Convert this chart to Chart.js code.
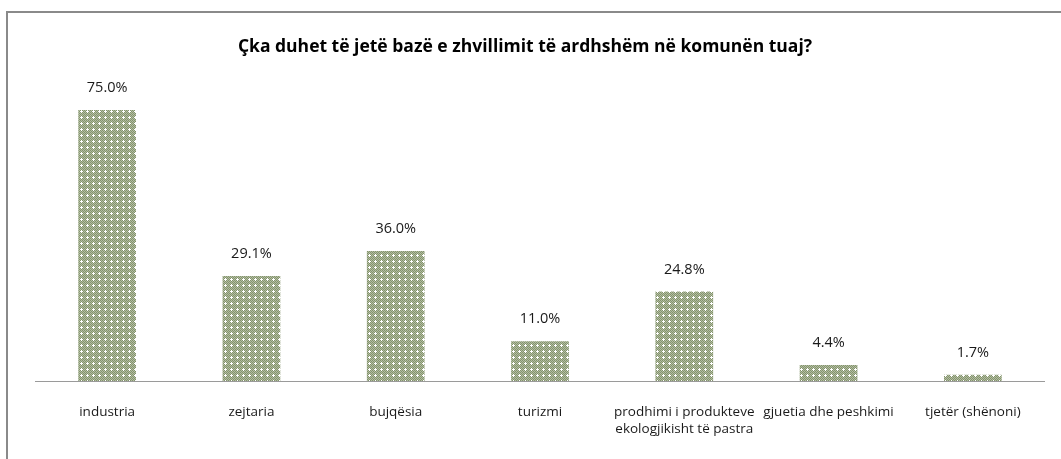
<!DOCTYPE html>
<html>
<head>
<meta charset="utf-8">
<script src="https://cdn.jsdelivr.net/npm/chart.js@4"></script>
<style>
    html, body { margin: 0; padding: 0; background: #fff; }
    #frame {
        position: absolute; left: 6px; top: 11px; width: 1100px; height: 500px;
        border-left: 2px solid #8a8a8a; border-top: 2px solid #8a8a8a;
    }
    #wrap { position: absolute; left: 0; top: 0; width: 1061px; height: 459px; }
</style>
</head>
<body>
<div id="frame"></div>
<div id="wrap"><canvas id="chart"></canvas></div>
<script>
// të dhënat e grafikut
const titleText = 'Çka duhet të jetë bazë e zhvillimit të ardhshëm në komunën tuaj?';
const categories = [
    'industria',
    'zejtaria',
    'bujqësia',
    'turizmi',
    ['prodhimi i produkteve', 'ekologjikisht të pastra'],
    'gjuetia dhe peshkimi',
    'tjetër (shënoni)'
];
const percentValues = [75.0, 29.1, 36.0, 11.0, 24.8, 4.4, 1.7];

const FONT = '"Open Sans", Lato, sans-serif';

// mbushja me pika si në Excel
function makePattern() {
    const c = document.createElement('canvas');
    c.width = 6;
    c.height = 6;
    const g = c.getContext('2d');
    for (let y = 0; y < 6; y++) {
        for (let x = 0; x < 6; x++) {
            g.fillStyle = (x + y) % 2 === 0 ? '#84936d' : '#b3bea2';
            g.fillRect(x, y, 1, 1);
        }
    }
    g.fillStyle = '#ffffff';
    [[3, 3], [2, 3], [4, 3], [3, 2], [3, 4]].forEach(p => g.fillRect(p[0], p[1], 1, 1));
    return g.createPattern(c, 'repeat');
}

// titulli, vija e boshtit dhe etiketat e vlerave mbi shtylla
const valueLabels = {
    id: 'valueLabels',
    afterDatasetsDraw(chart) {
        const ctx = chart.ctx;
        const area = chart.chartArea;
        const meta = chart.getDatasetMeta(0);
        ctx.save();
        ctx.strokeStyle = '#9a9a9a';
        ctx.lineWidth = 1;
        ctx.beginPath();
        ctx.moveTo(area.left, Math.round(area.bottom) + 0.5);
        ctx.lineTo(area.right, Math.round(area.bottom) + 0.5);
        ctx.stroke();

        ctx.textAlign = 'center';
        ctx.textBaseline = 'middle';
        ctx.fillStyle = '#000';
        ctx.font = 'bold 17.5px ' + FONT;
        ctx.fillText(titleText, 525, 47);
        ctx.font = '14.5px ' + FONT;
        ctx.fillStyle = '#1a1a1a';
        meta.data.forEach((bar, i) => {
            ctx.fillText(percentValues[i].toFixed(1) + '%', bar.x, bar.y - 22);
        });
        ctx.restore();
    }
};

const ctx = document.getElementById('chart').getContext('2d');
new Chart(ctx, {
    type: 'bar',
    data: {
        labels: categories,
        datasets: [{
            data: percentValues,
            backgroundColor: makePattern(),
            borderWidth: 0,
            barPercentage: 0.4,
            categoryPercentage: 1.0
        }]
    },
    options: {
        responsive: true,
        maintainAspectRatio: false,
        animation: false,
        devicePixelRatio: 1,
        layout: { padding: { left: 35, right: 16, top: 92, bottom: 0 } },
        plugins: {
            legend: { display: false },
            tooltip: { enabled: false },
            title: { display: false }
        },
        scales: {
            x: {
                grid: { display: false, drawTicks: false },
                border: { display: false },
                ticks: {
                    color: '#1a1a1a',
                    font: { family: FONT, size: 13.5, lineHeight: 1.3 },
                    padding: 22,
                    maxRotation: 0,
                    autoSkip: false
                },
                afterFit(scale) { scale.height = 78; }
            },
            y: {
                display: false,
                min: 0,
                max: 80
            }
        }
    },
    plugins: [valueLabels]
});
</script>
</body>
</html>
